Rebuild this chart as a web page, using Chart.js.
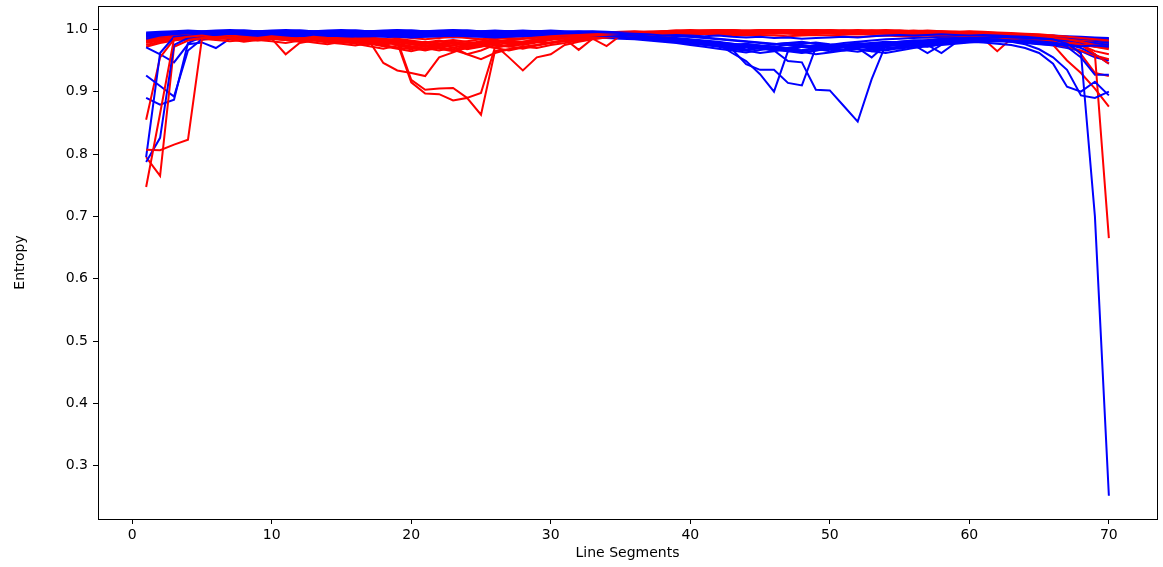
<!DOCTYPE html>
<html><head><meta charset="utf-8">
<script src="https://cdn.jsdelivr.net/npm/chart.js@4.4.0/dist/chart.umd.min.js"></script>
<style>html,body{margin:0;padding:0;background:#fff;overflow:hidden}#wrap{width:1163px;height:567px}</style>
</head><body><div id="wrap"><canvas id="c" width="1163" height="567"></canvas></div>
<script>
const segments = [1,2,3,4,5,6,7,8,9,10,11,12,13,14,15,16,17,18,19,20,21,22,23,24,25,26,27,28,29,30,31,32,33,34,35,36,37,38,39,40,41,42,43,44,45,46,47,48,49,50,51,52,53,54,55,56,57,58,59,60,61,62,63,64,65,66,67,68,69,70];
const xTicks = [0,10,20,30,40,50,60,70];
const yTicks = [0.3,0.4,0.5,0.6,0.7,0.8,0.9,1.0];

const blue01 = [0.985,0.99,0.992,0.994,0.995,0.994,0.996,0.995,0.996,0.995,
0.996,0.995,0.996,0.997,0.996,0.995,0.996,0.997,0.996,0.995,
0.996,0.997,0.996,0.995,0.996,0.997,0.996,0.995,0.996,0.997,
0.996,0.997,0.996,0.995,0.994,0.993,0.992,0.99,0.991,0.99,
0.989,0.99,0.988,0.987,0.988,0.986,0.987,0.985,0.986,0.987,
0.988,0.987,0.989,0.99,0.991,0.99,0.991,0.992,0.991,0.99,
0.991,0.99,0.989,0.988,0.986,0.984,0.977,0.962,0.70,0.252];
const blue02 = [0.787,0.826,0.975,0.986,0.99,0.991,0.993,0.992,0.993,0.994,
0.993,0.992,0.994,0.993,0.992,0.993,0.994,0.993,0.991,0.992,
0.993,0.992,0.994,0.993,0.992,0.993,0.994,0.995,0.994,0.993,
0.994,0.995,0.994,0.993,0.992,0.99,0.988,0.986,0.984,0.982,
0.98,0.978,0.975,0.977,0.974,0.972,0.975,0.973,0.97,0.972,
0.974,0.972,0.97,0.973,0.975,0.977,0.979,0.978,0.98,0.982,
0.983,0.984,0.982,0.98,0.978,0.976,0.975,0.973,0.974,0.972];
const blue03 = [0.795,0.962,0.988,0.99,0.992,0.994,0.995,0.996,0.995,0.996,
0.997,0.996,0.995,0.996,0.997,0.996,0.995,0.994,0.995,0.996,
0.995,0.994,0.995,0.996,0.995,0.994,0.993,0.994,0.995,0.994,
0.995,0.994,0.993,0.992,0.991,0.99,0.989,0.987,0.985,0.983,
0.98,0.976,0.972,0.968,0.97,0.973,0.969,0.966,0.968,0.971,
0.975,0.978,0.976,0.974,0.977,0.98,0.982,0.984,0.985,0.986,
0.987,0.988,0.987,0.986,0.985,0.984,0.982,0.98,0.978,0.975];
const blue04 = [0.926,0.909,0.892,0.966,0.984,0.988,0.99,0.991,0.99,0.992,
0.991,0.99,0.992,0.993,0.992,0.991,0.99,0.991,0.992,0.991,
0.99,0.991,0.992,0.991,0.99,0.989,0.99,0.991,0.99,0.991,
0.992,0.991,0.99,0.989,0.988,0.987,0.986,0.985,0.983,0.98,
0.977,0.974,0.97,0.966,0.962,0.965,0.968,0.964,0.96,0.963,
0.966,0.969,0.965,0.962,0.966,0.97,0.973,0.976,0.978,0.98,
0.984,0.985,0.986,0.987,0.988,0.987,0.986,0.985,0.984,0.983];
const blue05 = [0.89,0.879,0.887,0.978,0.988,0.991,0.993,0.994,0.995,0.994,
0.995,0.996,0.995,0.994,0.995,0.996,0.997,0.996,0.995,0.994,
0.995,0.996,0.997,0.996,0.995,0.996,0.997,0.996,0.997,0.998,
0.997,0.996,0.997,0.996,0.995,0.994,0.993,0.992,0.99,0.988,
0.986,0.984,0.982,0.98,0.978,0.976,0.978,0.98,0.977,0.975,
0.978,0.98,0.982,0.984,0.985,0.986,0.987,0.988,0.989,0.99,
0.991,0.992,0.991,0.99,0.989,0.988,0.987,0.986,0.985,0.984];
const blue06 = [0.971,0.96,0.947,0.976,0.979,0.97,0.985,0.988,0.99,0.989,
0.99,0.988,0.989,0.99,0.991,0.99,0.989,0.99,0.988,0.987,
0.988,0.989,0.99,0.989,0.988,0.987,0.988,0.989,0.99,0.991,
0.99,0.991,0.992,0.991,0.99,0.989,0.988,0.986,0.984,0.981,
0.978,0.974,0.971,0.975,0.97,0.966,0.97,0.974,0.969,0.965,
0.968,0.972,0.969,0.966,0.97,0.975,0.972,0.976,0.979,0.981,
0.983,0.985,0.984,0.985,0.984,0.983,0.982,0.981,0.98,0.978];
const blue07 = [0.99,0.992,0.993,0.994,0.993,0.994,0.995,0.994,0.993,0.994,
0.995,0.994,0.993,0.994,0.995,0.994,0.993,0.992,0.993,0.994,
0.993,0.992,0.993,0.994,0.995,0.994,0.993,0.992,0.993,0.994,
0.993,0.992,0.991,0.99,0.989,0.988,0.987,0.985,0.983,0.98,
0.978,0.976,0.962,0.949,0.928,0.90,0.965,0.972,0.97,0.974,
0.976,0.973,0.975,0.978,0.98,0.982,0.983,0.985,0.986,0.985,
0.986,0.987,0.986,0.985,0.984,0.983,0.982,0.984,0.983,0.981];
const blue08 = [0.988,0.99,0.991,0.99,0.992,0.991,0.99,0.991,0.992,0.991,
0.99,0.991,0.99,0.989,0.99,0.991,0.99,0.989,0.99,0.991,
0.99,0.989,0.99,0.991,0.99,0.989,0.99,0.991,0.992,0.991,
0.99,0.991,0.99,0.989,0.988,0.987,0.985,0.984,0.982,0.98,
0.978,0.976,0.968,0.944,0.935,0.935,0.914,0.91,0.971,0.975,
0.973,0.976,0.978,0.976,0.979,0.981,0.98,0.982,0.984,0.985,
0.986,0.985,0.984,0.983,0.98,0.978,0.976,0.979,0.977,0.975];
const blue09 = [0.992,0.993,0.994,0.995,0.996,0.995,0.994,0.995,0.996,0.997,
0.996,0.995,0.996,0.997,0.996,0.995,0.996,0.997,0.998,0.997,
0.996,0.997,0.998,0.997,0.996,0.997,0.996,0.995,0.996,0.995,
0.994,0.993,0.992,0.991,0.99,0.989,0.987,0.985,0.983,0.981,
0.979,0.977,0.975,0.973,0.971,0.966,0.949,0.947,0.903,0.902,
0.877,0.852,0.92,0.975,0.978,0.98,0.982,0.984,0.985,0.986,
0.987,0.988,0.987,0.986,0.985,0.984,0.983,0.982,0.98,0.979];
const blue10 = [0.986,0.988,0.99,0.989,0.991,0.99,0.989,0.99,0.991,0.99,
0.989,0.99,0.991,0.99,0.989,0.988,0.989,0.99,0.989,0.988,
0.989,0.99,0.991,0.99,0.989,0.99,0.991,0.992,0.991,0.99,
0.991,0.99,0.989,0.988,0.987,0.986,0.985,0.983,0.98,0.977,
0.975,0.972,0.968,0.966,0.97,0.968,0.965,0.967,0.97,0.968,
0.966,0.97,0.955,0.975,0.973,0.975,0.962,0.975,0.977,0.979,
0.98,0.981,0.98,0.978,0.976,0.975,0.974,0.976,0.978,0.977];
const blue11 = [0.99,0.991,0.992,0.993,0.994,0.993,0.992,0.993,0.994,0.995,
0.994,0.993,0.994,0.995,0.994,0.993,0.994,0.995,0.994,0.993,
0.994,0.995,0.994,0.993,0.994,0.995,0.994,0.993,0.992,0.993,
0.992,0.991,0.99,0.989,0.988,0.987,0.986,0.984,0.982,0.98,
0.978,0.975,0.973,0.976,0.974,0.971,0.969,0.972,0.975,0.973,
0.975,0.977,0.976,0.978,0.98,0.982,0.981,0.983,0.982,0.98,
0.979,0.977,0.975,0.97,0.962,0.945,0.908,0.90,0.916,0.894];
const blue12 = [0.989,0.99,0.991,0.992,0.991,0.99,0.991,0.992,0.993,0.992,
0.991,0.992,0.993,0.992,0.991,0.99,0.991,0.992,0.991,0.99,
0.991,0.992,0.991,0.99,0.991,0.992,0.993,0.992,0.991,0.992,
0.991,0.99,0.989,0.988,0.987,0.985,0.984,0.982,0.98,0.978,
0.976,0.974,0.97,0.972,0.969,0.967,0.97,0.973,0.971,0.968,
0.971,0.974,0.972,0.975,0.977,0.979,0.98,0.982,0.983,0.984,
0.983,0.982,0.98,0.976,0.968,0.955,0.935,0.894,0.89,0.90];
const blue13 = [0.993,0.994,0.995,0.996,0.997,0.996,0.997,0.998,0.997,0.996,
0.997,0.998,0.997,0.996,0.997,0.998,0.997,0.996,0.997,0.998,
0.997,0.996,0.997,0.998,0.997,0.996,0.997,0.998,0.997,0.996,
0.995,0.996,0.995,0.994,0.993,0.992,0.991,0.99,0.989,0.988,
0.987,0.985,0.983,0.981,0.979,0.977,0.975,0.977,0.979,0.976,
0.974,0.977,0.975,0.973,0.976,0.975,0.975,0.962,0.978,0.981,
0.983,0.985,0.984,0.983,0.981,0.979,0.976,0.97,0.96,0.945];
const blue14 = [0.991,0.993,0.994,0.995,0.994,0.993,0.994,0.995,0.996,0.995,
0.994,0.995,0.996,0.995,0.994,0.995,0.996,0.995,0.994,0.995,
0.996,0.995,0.994,0.993,0.994,0.995,0.996,0.995,0.994,0.993,
0.994,0.993,0.992,0.991,0.99,0.989,0.988,0.987,0.985,0.983,
0.981,0.979,0.977,0.975,0.973,0.976,0.978,0.975,0.972,0.97,
0.973,0.975,0.978,0.98,0.979,0.977,0.978,0.98,0.982,0.984,
0.985,0.986,0.985,0.984,0.983,0.98,0.972,0.955,0.927,0.927];
const blue15 = [0.995,0.996,0.997,0.998,0.997,0.998,0.999,0.998,0.997,0.998,
0.999,0.998,0.997,0.998,0.999,0.998,0.997,0.998,0.999,0.998,
0.997,0.998,0.999,0.998,0.997,0.998,0.997,0.996,0.997,0.996,
0.995,0.994,0.993,0.992,0.991,0.99,0.989,0.988,0.986,0.984,
0.982,0.98,0.977,0.974,0.971,0.968,0.965,0.962,0.966,0.969,
0.967,0.964,0.968,0.971,0.969,0.972,0.975,0.978,0.981,0.983,
0.985,0.986,0.987,0.988,0.989,0.99,0.989,0.988,0.987,0.986];
const blue16 = [0.982,0.985,0.988,0.99,0.989,0.988,0.987,0.988,0.989,0.988,
0.987,0.988,0.989,0.988,0.987,0.988,0.989,0.988,0.987,0.988,
0.989,0.988,0.987,0.988,0.989,0.988,0.989,0.99,0.989,0.988,
0.989,0.988,0.987,0.986,0.985,0.984,0.982,0.98,0.978,0.975,
0.972,0.969,0.966,0.963,0.967,0.97,0.967,0.963,0.966,0.97,
0.973,0.968,0.965,0.968,0.972,0.975,0.977,0.979,0.981,0.983,
0.984,0.983,0.981,0.979,0.977,0.974,0.97,0.965,0.955,0.95];

const red01 = [0.747,0.865,0.985,0.988,0.99,0.987,0.985,0.982,0.985,0.988,
0.985,0.982,0.984,0.981,0.978,0.98,0.983,0.98,0.976,0.972,
0.975,0.97,0.968,0.972,0.976,0.98,0.983,0.985,0.987,0.989,
0.99,0.991,0.992,0.993,0.994,0.995,0.996,0.995,0.996,0.997,
0.996,0.997,0.998,0.997,0.996,0.997,0.998,0.997,0.996,0.995,
0.996,0.997,0.996,0.995,0.996,0.997,0.996,0.995,0.994,0.995,
0.994,0.993,0.992,0.991,0.99,0.989,0.988,0.986,0.984,0.982];
const red02 = [0.807,0.806,0.815,0.823,0.985,0.988,0.99,0.988,0.986,0.989,
0.987,0.985,0.988,0.986,0.983,0.985,0.982,0.979,0.982,0.978,
0.974,0.977,0.98,0.976,0.973,0.977,0.981,0.978,0.982,0.985,
0.987,0.989,0.99,0.992,0.993,0.994,0.995,0.996,0.997,0.996,
0.997,0.998,0.997,0.996,0.997,0.998,0.999,0.998,0.997,0.998,
0.997,0.996,0.997,0.998,0.997,0.996,0.995,0.996,0.995,0.994,
0.993,0.992,0.991,0.99,0.988,0.986,0.984,0.98,0.975,0.97];
const red03 = [0.795,0.765,0.972,0.982,0.986,0.984,0.987,0.985,0.983,0.986,
0.984,0.981,0.983,0.98,0.982,0.979,0.976,0.98,0.977,0.973,
0.969,0.974,0.978,0.975,0.979,0.982,0.979,0.976,0.98,0.984,
0.986,0.988,0.99,0.991,0.992,0.993,0.994,0.993,0.994,0.995,
0.994,0.995,0.996,0.995,0.994,0.993,0.994,0.995,0.994,0.993,
0.992,0.993,0.994,0.993,0.992,0.991,0.99,0.991,0.99,0.989,
0.988,0.987,0.985,0.986,0.984,0.982,0.979,0.975,0.965,0.96];
const red04 = [0.855,0.955,0.984,0.987,0.985,0.988,0.99,0.987,0.984,0.986,
0.983,0.986,0.984,0.981,0.984,0.98,0.977,0.973,0.969,0.965,
0.97,0.966,0.971,0.96,0.952,0.962,0.968,0.972,0.97,0.975,
0.978,0.982,0.985,0.987,0.989,0.99,0.991,0.99,0.991,0.992,
0.993,0.992,0.991,0.992,0.993,0.994,0.993,0.992,0.993,0.994,
0.995,0.994,0.993,0.994,0.995,0.994,0.993,0.992,0.993,0.992,
0.991,0.99,0.989,0.988,0.986,0.985,0.983,0.975,0.96,0.945];
const red05 = [0.975,0.98,0.984,0.986,0.985,0.983,0.981,0.983,0.986,0.985,
0.96,0.978,0.982,0.985,0.983,0.98,0.978,0.975,0.979,0.976,
0.972,0.976,0.971,0.974,0.978,0.975,0.972,0.976,0.98,0.978,
0.982,0.985,0.987,0.988,0.99,0.991,0.992,0.993,0.994,0.995,
0.996,0.995,0.994,0.995,0.996,0.997,0.996,0.995,0.996,0.997,
0.996,0.995,0.994,0.995,0.996,0.995,0.994,0.993,0.994,0.993,
0.992,0.991,0.99,0.989,0.988,0.987,0.985,0.982,0.978,0.975];
const red06 = [0.98,0.983,0.986,0.988,0.987,0.985,0.987,0.989,0.988,0.986,
0.984,0.986,0.988,0.986,0.984,0.983,0.981,0.946,0.934,0.93,
0.925,0.955,0.963,0.971,0.975,0.978,0.982,0.98,0.984,0.987,
0.989,0.99,0.991,0.992,0.993,0.994,0.995,0.996,0.995,0.996,
0.997,0.996,0.995,0.996,0.997,0.998,0.997,0.996,0.995,0.996,
0.997,0.996,0.995,0.994,0.995,0.996,0.995,0.994,0.993,0.994,
0.993,0.992,0.991,0.99,0.989,0.988,0.986,0.984,0.98,0.978];
const red07 = [0.985,0.988,0.99,0.991,0.99,0.989,0.99,0.991,0.99,0.988,
0.986,0.988,0.987,0.985,0.983,0.985,0.984,0.982,0.982,0.919,
0.903,0.905,0.906,0.89,0.898,0.971,0.974,0.978,0.981,0.984,
0.986,0.988,0.99,0.991,0.992,0.993,0.994,0.995,0.996,0.997,
0.998,0.997,0.996,0.997,0.998,0.999,0.998,0.997,0.998,0.997,
0.996,0.997,0.998,0.997,0.996,0.997,0.996,0.995,0.996,0.995,
0.994,0.993,0.992,0.991,0.99,0.989,0.987,0.985,0.983,0.981];
const red08 = [0.982,0.985,0.987,0.986,0.988,0.987,0.985,0.987,0.988,0.986,
0.984,0.982,0.985,0.983,0.98,0.982,0.979,0.981,0.978,0.915,
0.897,0.896,0.886,0.89,0.863,0.965,0.968,0.972,0.975,0.979,
0.982,0.985,0.987,0.989,0.99,0.991,0.992,0.993,0.994,0.995,
0.994,0.995,0.996,0.995,0.994,0.995,0.996,0.997,0.996,0.995,
0.994,0.995,0.996,0.995,0.994,0.993,0.994,0.993,0.992,0.991,
0.99,0.989,0.988,0.987,0.986,0.984,0.982,0.978,0.972,0.968];
const red09 = [0.978,0.982,0.985,0.983,0.986,0.988,0.986,0.984,0.982,0.985,
0.983,0.98,0.983,0.985,0.982,0.979,0.983,0.98,0.975,0.971,
0.968,0.972,0.967,0.96,0.966,0.975,0.955,0.934,0.955,0.96,
0.975,0.98,0.984,0.987,0.989,0.991,0.992,0.993,0.994,0.995,
0.994,0.993,0.994,0.995,0.996,0.995,0.994,0.993,0.994,0.995,
0.996,0.995,0.994,0.993,0.994,0.995,0.994,0.993,0.992,0.991,
0.99,0.989,0.988,0.987,0.986,0.985,0.984,0.983,0.982,0.98];
const red10 = [0.983,0.986,0.988,0.99,0.989,0.991,0.99,0.988,0.99,0.991,
0.989,0.987,0.99,0.988,0.986,0.988,0.985,0.983,0.98,0.976,
0.98,0.977,0.974,0.978,0.975,0.971,0.975,0.979,0.982,0.985,
0.985,0.967,0.985,0.988,0.99,0.991,0.992,0.993,0.994,0.995,
0.996,0.997,0.998,0.997,0.996,0.997,0.998,0.997,0.996,0.997,
0.998,0.997,0.996,0.995,0.996,0.997,0.996,0.995,0.994,0.993,
0.992,0.991,0.99,0.989,0.987,0.985,0.98,0.975,0.972,0.97];
const red11 = [0.987,0.99,0.991,0.992,0.993,0.992,0.991,0.992,0.993,0.992,
0.991,0.99,0.991,0.992,0.99,0.988,0.986,0.984,0.982,0.98,
0.977,0.98,0.983,0.98,0.977,0.98,0.976,0.98,0.983,0.986,
0.988,0.985,0.985,0.973,0.99,0.992,0.993,0.994,0.995,0.996,
0.997,0.998,0.997,0.998,0.999,0.998,0.997,0.998,0.999,0.998,
0.997,0.998,0.997,0.996,0.997,0.998,0.997,0.996,0.995,0.996,
0.995,0.994,0.993,0.992,0.991,0.99,0.988,0.985,0.982,0.98];
const red12 = [0.98,0.984,0.987,0.989,0.988,0.99,0.989,0.987,0.985,0.987,
0.985,0.983,0.986,0.984,0.981,0.983,0.98,0.977,0.98,0.977,
0.973,0.976,0.98,0.977,0.981,0.984,0.986,0.985,0.988,0.99,
0.991,0.992,0.993,0.994,0.995,0.996,0.995,0.994,0.995,0.994,
0.993,0.992,0.991,0.99,0.991,0.99,0.989,0.99,0.991,0.99,
0.989,0.988,0.989,0.99,0.989,0.988,0.987,0.988,0.987,0.986,
0.985,0.965,0.985,0.983,0.98,0.975,0.95,0.93,0.905,0.876];
const red13 = [0.99,0.992,0.993,0.994,0.993,0.992,0.993,0.994,0.993,0.992,
0.991,0.992,0.993,0.992,0.991,0.99,0.991,0.99,0.988,0.986,
0.984,0.986,0.988,0.986,0.984,0.986,0.988,0.989,0.99,0.991,
0.992,0.993,0.994,0.995,0.996,0.997,0.996,0.997,0.998,0.997,
0.998,0.999,0.998,0.997,0.998,0.999,0.998,0.997,0.998,0.999,
0.998,0.997,0.998,0.999,0.998,0.997,0.998,0.997,0.996,0.997,
0.996,0.995,0.994,0.993,0.992,0.99,0.986,0.978,0.96,0.665];
const red14 = [0.984,0.987,0.989,0.988,0.99,0.989,0.988,0.99,0.991,0.99,
0.988,0.99,0.989,0.987,0.985,0.987,0.985,0.983,0.985,0.982,
0.979,0.982,0.978,0.981,0.984,0.98,0.983,0.986,0.984,0.987,
0.989,0.99,0.991,0.99,0.991,0.992,0.993,0.992,0.993,0.994,
0.995,0.994,0.993,0.994,0.995,0.996,0.995,0.994,0.995,0.996,
0.995,0.994,0.993,0.994,0.995,0.994,0.993,0.992,0.991,0.99,
0.989,0.988,0.986,0.985,0.984,0.982,0.98,0.96,0.93,0.925];
const red15 = [0.972,0.978,0.982,0.985,0.983,0.986,0.984,0.98,0.983,0.981,
0.978,0.982,0.979,0.976,0.98,0.977,0.973,0.969,0.974,0.97,
0.966,0.971,0.975,0.968,0.972,0.977,0.973,0.969,0.974,0.978,
0.981,0.984,0.986,0.988,0.99,0.991,0.99,0.992,0.993,0.994,
0.993,0.994,0.995,0.994,0.993,0.994,0.995,0.996,0.995,0.994,
0.993,0.992,0.993,0.994,0.993,0.992,0.991,0.99,0.989,0.988,
0.987,0.986,0.984,0.982,0.979,0.976,0.972,0.966,0.958,0.952];
const red16 = [0.988,0.99,0.992,0.991,0.99,0.988,0.986,0.988,0.987,0.985,
0.983,0.985,0.982,0.979,0.977,0.974,0.978,0.975,0.971,0.968,
0.973,0.969,0.965,0.97,0.974,0.97,0.966,0.971,0.975,0.979,
0.983,0.986,0.989,0.991,0.993,0.994,0.995,0.996,0.997,0.998,
0.997,0.998,0.999,0.998,0.997,0.998,0.997,0.996,0.997,0.998,
0.997,0.996,0.995,0.996,0.995,0.994,0.995,0.994,0.993,0.992,
0.991,0.99,0.988,0.987,0.985,0.983,0.98,0.978,0.976,0.973];
const red17 = [0.993,0.995,0.996,0.995,0.994,0.993,0.992,0.993,0.992,0.991,
0.99,0.991,0.99,0.988,0.987,0.989,0.987,0.985,0.983,0.98,
0.977,0.981,0.977,0.973,0.978,0.982,0.978,0.975,0.979,0.983,
0.986,0.988,0.99,0.992,0.994,0.995,0.996,0.997,0.998,0.999,
0.998,0.999,0.998,0.997,0.998,0.999,0.998,0.999,0.998,0.997,
0.998,0.999,0.998,0.997,0.998,0.997,0.996,0.997,0.996,0.995,
0.994,0.993,0.992,0.99,0.989,0.987,0.984,0.982,0.98,0.985];

const blueSeries = [blue01,blue02,blue03,blue04,blue05,blue06,blue07,blue08,blue09,blue10,blue11,blue12,blue13,blue14,blue15,blue16];
const redSeries = [red01,red02,red03,red04,red05,red06,red07,red08,red09,red10,red11,red12,red13,red14,red15,red16,red17];

const FONT = {family:'"DejaVu Sans", sans-serif', size:14};
const datasets = [];
const n = Math.max(blueSeries.length, redSeries.length);
for (let i = 0; i < n; i++) {
  const pairs = [];
  if (blueSeries[i]) pairs.push([blueSeries[i], '#0000ff']);
  if (redSeries[i]) pairs.push([redSeries[i], '#ff0000']);
  pairs.forEach(([vals, col]) => {
    datasets.push({
      data: segments.map((x, j) => ({x: x, y: vals[j]})),
      borderColor: col, backgroundColor: col, borderWidth: 2,
      pointRadius: 0, pointHoverRadius: 0, tension: 0, fill: false
    });
  });
}

const boxPlugin = {
  id: 'box',
  afterDraw(chart) {
    const {ctx, chartArea: a} = chart;
    ctx.save();
    ctx.strokeStyle = '#000';
    ctx.lineWidth = 1;
    ctx.strokeRect(Math.round(a.left) + 0.5, Math.round(a.top) + 0.5,
      Math.round(a.right - a.left), Math.round(a.bottom - a.top));
    ctx.restore();
  }
};

new Chart(document.getElementById('c'), {
  type: 'line',
  data: {datasets},
  plugins: [boxPlugin],
  options: {
    responsive: false, animation: false, devicePixelRatio: 1,
    layout: {padding: {left: 0, top: 6, right: 6, bottom: 0}},
    plugins: {legend: {display: false}, tooltip: {enabled: false}},
    scales: {
      x: {
        type: 'linear', min: -2.45, max: 73.45,
        afterBuildTicks: s => { s.ticks = xTicks.map(v => ({value: v})); },
        afterFit: s => { s.height = 48; s.paddingLeft = 0; s.paddingRight = 0; },
        ticks: {font: FONT, color: '#000', padding: 3, maxRotation: 0, autoSkip: false, callback: v => String(v)},
        grid: {display: true, drawOnChartArea: false, drawTicks: true, tickLength: 5, tickColor: '#000', tickWidth: 1},
        border: {display: false},
        title: {display: true, text: 'Line Segments', font: FONT, color: '#000', padding: {top: 0, bottom: 5}}
      },
      y: {
        type: 'linear', min: 0.2146, max: 1.0374,
        afterBuildTicks: s => { s.ticks = yTicks.map(v => ({value: v})); },
        afterFit: s => { s.width = 98; s.paddingTop = 0; s.paddingBottom = 0; },
        ticks: {font: FONT, color: '#000', padding: 5, autoSkip: false, callback: v => Number(v).toFixed(1)},
        grid: {display: true, drawOnChartArea: false, drawTicks: true, tickLength: 5, tickColor: '#000', tickWidth: 1},
        border: {display: false},
        title: {display: true, text: 'Entropy', font: FONT, color: '#000', padding: {top: 12, bottom: 0}}
      }
    }
  }
});
</script>
</body></html>
